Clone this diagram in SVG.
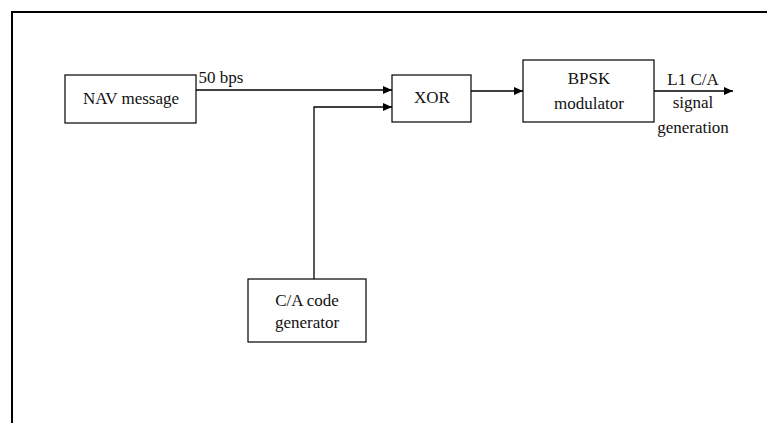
<svg xmlns="http://www.w3.org/2000/svg" width="767" height="423" viewBox="0 0 767 423">
<style>
.box{fill:#fff;stroke:#000;stroke-width:1.2}
.ln{fill:none;stroke:#000;stroke-width:1.3}
text{font-family:"Liberation Serif","Times New Roman",serif;font-size:17px;fill:#111;text-anchor:middle}
</style>
<defs>
<marker id="ah" markerWidth="9" markerHeight="8" refX="9" refY="4" orient="auto" markerUnits="userSpaceOnUse">
<path d="M0,0 L9,4 L0,8 Z" fill="#000"/>
</marker>
</defs>
<rect x="0" y="0" width="767" height="423" fill="#fff"/>
<path d="M12,423 V12 H767" fill="none" stroke="#000" stroke-width="2"/>
<g id="connectors">
<line class="ln" x1="196" y1="90" x2="392" y2="90" marker-end="url(#ah)"/>
<polyline class="ln" points="314,279 314,107 392,107" marker-end="url(#ah)"/>
<line class="ln" x1="471" y1="91" x2="523" y2="91" marker-end="url(#ah)"/>
<line class="ln" x1="654" y1="91" x2="733" y2="91" marker-end="url(#ah)"/>
<text x="221" y="83">50 bps</text>
<text x="693" y="85">L1 C/A</text>
<text x="693" y="108" font-size="16">signal</text>
<text x="693" y="133" font-size="16">generation</text>
</g>
<g id="nav">
<rect class="box" x="65" y="75" width="131" height="48"/>
<text x="131" y="104" font-size="18">NAV message</text>
</g>
<g id="xor">
<rect class="box" x="392" y="75" width="79" height="47"/>
<text x="432" y="103">XOR</text>
</g>
<g id="bpsk">
<rect class="box" x="523" y="60" width="131" height="62"/>
<text x="589" y="84">BPSK</text>
<text x="589" y="109">modulator</text>
</g>
<g id="ca">
<rect class="box" x="248" y="279" width="118" height="63"/>
<text x="307" y="306">C/A code</text>
<text x="307" y="328" font-size="16">generator</text>
</g>
</svg>
